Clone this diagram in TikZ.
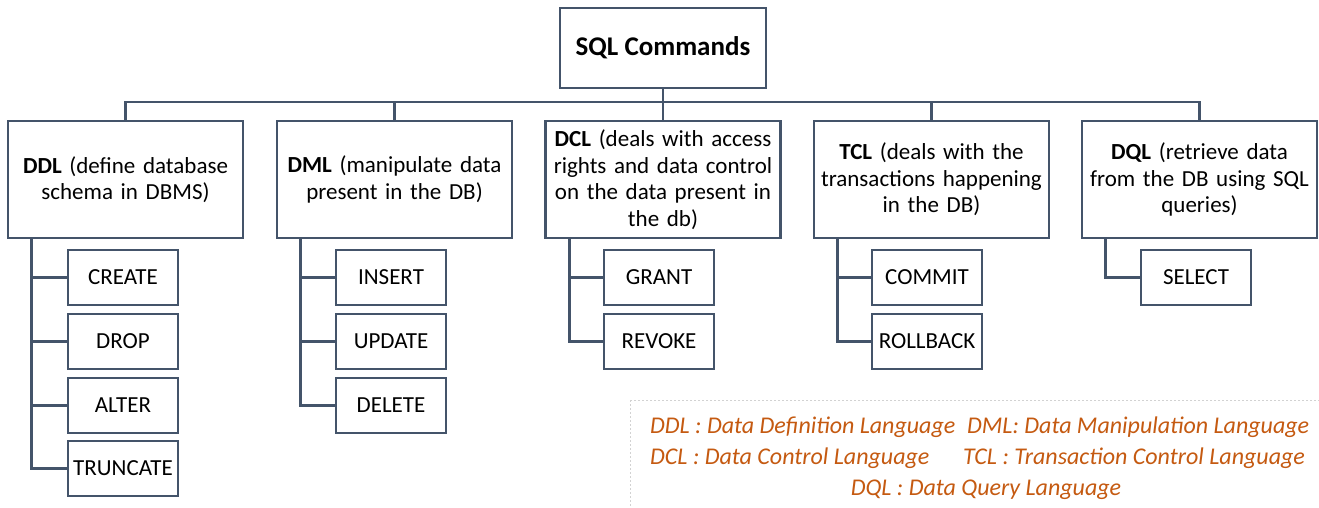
\documentclass[tikz,border=0pt]{standalone}
\usepackage{fontspec}
\setmainfont{Carlito}
\definecolor{lc}{HTML}{44546A}
\definecolor{lg}{HTML}{C55A11}
\begin{document}
\begin{tikzpicture}[x=1pt,y=-1pt,
  box/.style={draw=lc, line width=2.8pt, fill=white, align=center, inner sep=2pt},
  rootbox/.style={box, minimum width=206pt, minimum height=80pt, font=\fontsize{27}{30}\selectfont\bfseries},
  catbox/.style={box, minimum width=235pt, minimum height=117pt, text width=228pt, font=\fontsize{23}{26.5}\selectfont},
  cmdbox/.style={box, minimum width=110pt, minimum height=55pt, inner sep=0pt, font=\fontsize{23}{26}\selectfont},
  conn/.style={draw=lc, line width=2.8pt},
  legtext/.style={text=lg, font=\fontsize{24}{26}\selectfont\itshape, inner sep=0pt}]
\useasboundingbox (0,0) rectangle (1319,508);
\clip (0,0) rectangle (1319,508);
\fill[white] (0,0) rectangle (1319,508);

% legend frame
\draw[gray!35, line width=0.8pt, dash pattern=on 2pt off 2pt] (630,400) rectangle (1335,520);

% root
\node[rootbox] (root) at (663,48) {SQL Commands};

% categories
\node[catbox] (ddl) at (125.5,179.5) {\textbf{DDL} (define database\\schema in DBMS)};
\node[catbox] (dml) at (394.5,179.5) {\textbf{DML} (manipulate data\\present in the DB)};
\node[catbox] (dcl) at (663,179.5) {\textbf{DCL} (deals with access\\rights and data control\\on the data present in\\the db)};
\node[catbox] (tcl) at (931.5,179.5) {\textbf{TCL} (deals with the\\transactions happening\\in the DB)};
\node[catbox] (dql) at (1199.5,179.5) {\textbf{DQL} (retrieve data\\from the DB using SQL\\queries)};

% bus
\coordinate (bus) at (663,102);
\draw[conn] (root.south) -- (bus);
\draw[conn] (ddl.north) |- (bus) -| (dql.north);
\draw[conn] (dml.north) -- (dml.north |- bus);
\draw[conn] (dcl.north) -- (dcl.north |- bus);
\draw[conn] (tcl.north) -- (tcl.north |- bus);

% commands
\node[cmdbox] (create)   at (123,277.5) {CREATE};
\node[cmdbox] (drop)     at (123,341.5) {DROP};
\node[cmdbox] (alter)    at (123,405.5) {ALTER};
\node[cmdbox] (truncate) at (123,468.5) {TRUNCATE};

\node[cmdbox] (insert) at (391,277.5) {INSERT};
\node[cmdbox] (update) at (391,341.5) {UPDATE};
\node[cmdbox] (delete) at (391,405.5) {DELETE};

\node[cmdbox] (grant)  at (659,277.5) {GRANT};
\node[cmdbox] (revoke) at (659,341.5) {REVOKE};

\node[cmdbox] (commit)   at (927,277.5) {COMMIT};
\node[cmdbox] (rollback) at (927,341.5) {ROLLBACK};

\node[cmdbox] (select) at (1196,277.5) {SELECT};

% trunks
\coordinate (tddl) at ([xshift=25pt]ddl.south west);
\coordinate (tdml) at ([xshift=25pt]dml.south west);
\coordinate (tdcl) at ([xshift=25pt]dcl.south west);
\coordinate (ttcl) at ([xshift=25pt]tcl.south west);
\coordinate (tdql) at ([xshift=25pt]dql.south west);

\draw[conn] (tddl) |- (truncate.west);
\draw[conn] (create.west) -- (create.west -| tddl);
\draw[conn] (drop.west) -- (drop.west -| tddl);
\draw[conn] (alter.west) -- (alter.west -| tddl);

\draw[conn] (tdml) |- (delete.west);
\draw[conn] (insert.west) -- (insert.west -| tdml);
\draw[conn] (update.west) -- (update.west -| tdml);

\draw[conn] (tdcl) |- (revoke.west);
\draw[conn] (grant.west) -- (grant.west -| tdcl);

\draw[conn] (ttcl) |- (rollback.west);
\draw[conn] (commit.west) -- (commit.west -| ttcl);

\draw[conn] (tdql) |- (select.west);

% legend text
\node[legtext, anchor=west] (lddl) at (650,427) {DDL : Data Definition Language};
\node[legtext, anchor=west] (ldml) at (967,427) {DML: Data Manipulation Language};
\node[legtext, anchor=west] (ldcl) at (650,458) {DCL : Data Control Language};
\node[legtext, anchor=west] (ltcl) at (963,458) {TCL : Transaction Control Language};
\node[legtext] (ldql) at (986,490) {DQL : Data Query Language};
\end{tikzpicture}
\end{document}
